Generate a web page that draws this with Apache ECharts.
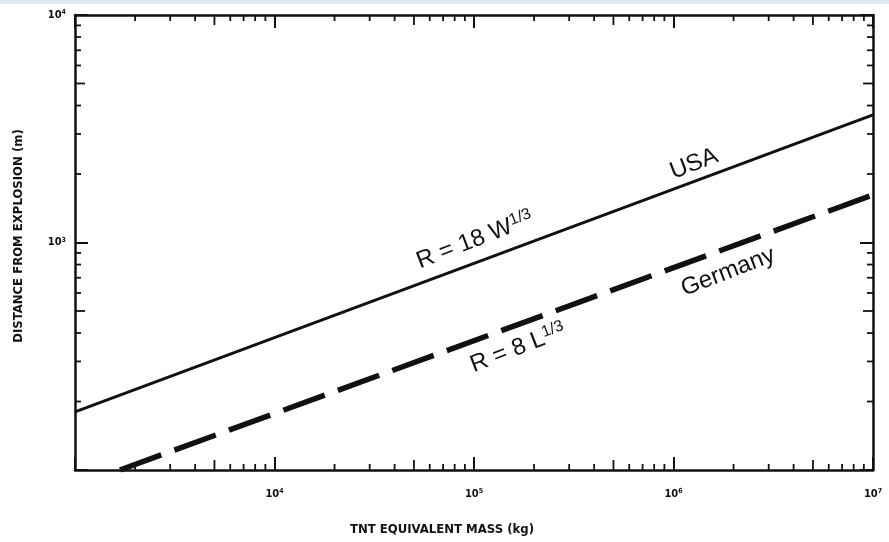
<!DOCTYPE html>
<html>
<head>
<meta charset="utf-8">
<script src="https://cdn.jsdelivr.net/npm/echarts@6/dist/echarts.min.js"></script>
<style>
  html, body { margin: 0; padding: 0; background: #fff; }
  #chart { width: 889px; height: 542px; }
</style>
</head>
<body>
<div id="chart"></div>
<script>
// axis ranges (log10)
const xMin = 1e3, xMax = 1e7
const yMin = 1e2, yMax = 1e4

// labelled decades
const xTickValues = [1e4, 1e5, 1e6, 1e7]
const xTickExp = ['4', '5', '6', '7']
const yTickValues = [1e3, 1e4]
const yTickExp = ['3', '4']

// lines (TNT mass kg -> distance m)
const usaMass = [1e3, 1e7]
const usaDist = [180, 3640]
const gerMass = [1680, 1e7]
const gerDist = [100, 1620]

// minor tick positions 2..9 in every decade
const xMinor = []
for (let d = 1e3; d < xMax; d *= 10) {
  for (let k = 2; k <= 9; k++) xMinor.push(k * d)
}
const yMinor = []
for (let d = 1e2; d < yMax; d *= 10) {
  for (let k = 2; k <= 9; k++) yMinor.push(k * d)
}

const INK = '#111'
const labelFont = "'Liberation Sans Narrow', 'DejaVu Sans Condensed', sans-serif"
const noteFont = "'Liberation Sans', Arial, sans-serif"

function tickLabel(values, exps) {
  return function (v) {
    const i = values.findIndex(t => Math.abs(t - v) / t < 1e-6)
    return i < 0 ? '' : '{b|10}{s|' + exps[i] + '}'
  }
}

const labelRich = {
  b: { fontSize: 11, fontWeight: 'bold', fontFamily: labelFont, color: INK },
  s: { fontSize: 7, fontWeight: 'bold', fontFamily: labelFont, color: INK, verticalAlign: 'top', padding: [0, 0, 5, 0] }
}

function minorLen(v) {
  const m = Math.round(v / Math.pow(10, Math.floor(Math.log10(v) + 1e-9)))
  return m === 5 ? 10 : 6
}

function renderXMinor(params, api) {
  const cs = params.coordSys
  const v = api.value(0)
  const p = api.coord([v, yMin])
  const len = minorLen(v)
  const st = { stroke: INK, lineWidth: 1.8 }
  return {
    type: 'group',
    children: [
      { type: 'line', shape: { x1: p[0], y1: cs.y + cs.height, x2: p[0], y2: cs.y + cs.height - len }, style: st },
      { type: 'line', shape: { x1: p[0], y1: cs.y, x2: p[0], y2: cs.y + len }, style: st }
    ]
  }
}

function renderYMinor(params, api) {
  const cs = params.coordSys
  const v = api.value(1)
  const p = api.coord([xMin, v])
  const len = minorLen(v)
  const st = { stroke: INK, lineWidth: 1.8 }
  return {
    type: 'group',
    children: [
      { type: 'line', shape: { x1: cs.x, y1: p[1], x2: cs.x + len, y2: p[1] }, style: st },
      { type: 'line', shape: { x1: cs.x + cs.width, y1: p[1], x2: cs.x + cs.width - len, y2: p[1] }, style: st }
    ]
  }
}

function axisBase(extra) {
  return Object.assign({
    type: 'log',
    logBase: 10,
    axisLine: { show: true, onZero: false, lineStyle: { color: INK, width: 2.5 } },
    axisTick: { show: true, inside: true, length: 13, lineStyle: { color: INK, width: 2 } },
    splitLine: { show: false },
    minorTick: { show: false }
  }, extra)
}

const chart = echarts.init(document.getElementById('chart'), null, { renderer: 'canvas' })

const option = {
  backgroundColor: '#fff',
  animation: false,
  grid: { left: 75, right: 16, top: 15, bottom: 72 },
  xAxis: [
    axisBase({
      min: xMin, max: xMax, position: 'bottom',
      axisLabel: { margin: 18, formatter: tickLabel(xTickValues, xTickExp), rich: labelRich }
    }),
    axisBase({ min: xMin, max: xMax, position: 'top', axisLabel: { show: false } })
  ],
  yAxis: [
    axisBase({
      min: yMin, max: yMax, position: 'left',
      axisLabel: { margin: 9, formatter: tickLabel(yTickValues, yTickExp), rich: labelRich }
    }),
    axisBase({ min: yMin, max: yMax, position: 'right', axisLabel: { show: false } })
  ],
  series: [
    {
      name: 'USA',
      type: 'line',
      symbol: 'none',
      data: usaMass.map((m, i) => [m, usaDist[i]]),
      lineStyle: { color: INK, width: 3 }
    },
    {
      name: 'Germany',
      type: 'line',
      symbol: 'none',
      data: gerMass.map((m, i) => [m, gerDist[i]]),
      lineStyle: { color: INK, width: 5.5, type: [44, 14], cap: 'butt' }
    },
    {
      type: 'custom',
      silent: true,
      renderItem: renderXMinor,
      data: xMinor.map(v => [v, yMin])
    },
    {
      type: 'custom',
      silent: true,
      renderItem: renderYMinor,
      data: yMinor.map(v => [xMin, v])
    }
  ],
  graphic: [
    // faint scan band along the top
    { type: 'rect', left: 0, top: 0, shape: { width: 889, height: 4 }, style: { fill: '#dce8f2' }, silent: true },
    {
      type: 'text', x: 19, y: 236, rotation: Math.PI / 2,
      style: { text: 'DISTANCE FROM EXPLOSION (m)', fontSize: 13, fontWeight: 'bold', fontFamily: labelFont, fill: INK, align: 'center', verticalAlign: 'middle' }
    },
    {
      type: 'text', x: 442, y: 530,
      style: { text: 'TNT EQUIVALENT MASS (kg)', fontSize: 13, fontWeight: 'bold', fontFamily: labelFont, fill: INK, align: 'center', verticalAlign: 'middle' }
    },
    {
      type: 'text', x: 694, y: 164, rotation: 0.37,
      style: { text: 'USA', fontSize: 24, fontFamily: noteFont, fill: INK, align: 'center', verticalAlign: 'middle' }
    },
    {
      type: 'text', x: 475, y: 240, rotation: 0.37,
      style: {
        text: '{a|R = 18 W}{s|1/3}', align: 'center', verticalAlign: 'middle',
        rich: {
          a: { fontSize: 24, fontFamily: noteFont, fill: INK, color: INK },
          s: { fontSize: 16, fontFamily: noteFont, fill: INK, color: INK, verticalAlign: 'top', padding: [0, 0, 10, 0] }
        }
      }
    },
    {
      type: 'text', x: 728, y: 272, rotation: 0.37,
      style: { text: 'Germany', fontSize: 24, fontFamily: noteFont, fill: INK, align: 'center', verticalAlign: 'middle' }
    },
    {
      type: 'text', x: 518, y: 348, rotation: 0.37,
      style: {
        text: '{a|R = 8 L}{s|1/3}', align: 'center', verticalAlign: 'middle',
        rich: {
          a: { fontSize: 24, fontFamily: noteFont, fill: INK, color: INK },
          s: { fontSize: 16, fontFamily: noteFont, fill: INK, color: INK, verticalAlign: 'top', padding: [0, 0, 10, 0] }
        }
      }
    }
  ]
}

chart.setOption(option)
</script>
</body>
</html>
